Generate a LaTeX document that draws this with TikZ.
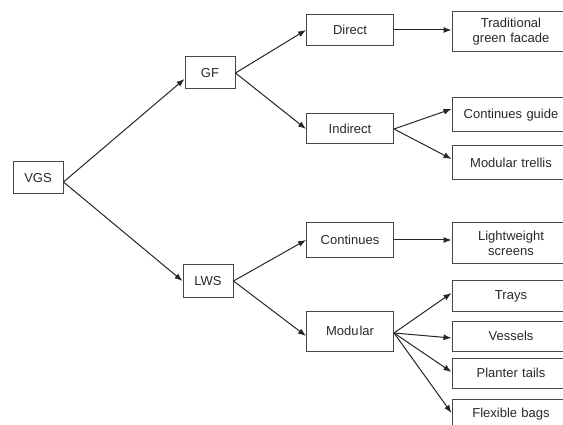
\documentclass[tikz,border=0pt]{standalone}
\usepackage{fontspec}
\setmainfont{Liberation Sans}
\usepackage{tikz}
\usetikzlibrary{arrows.meta,positioning,calc}
\definecolor{boxline}{RGB}{70,70,70}
\definecolor{inktext}{RGB}{40,40,40}

\begin{document}
\begin{tikzpicture}[
  x=1pt, y=-1pt,
  box/.style={rectangle, draw=boxline, line width=1pt, text centered,
              font=\fontsize{13}{15}\selectfont, text=inktext, inner sep=2pt},
  leaf/.style={box, minimum width=118pt, text width=112pt},
  arrow/.style={-{Latex[length=8pt,width=6pt]}, line width=1pt, black!85}
]
  \useasboundingbox (0,0) rectangle (563,425);

  % ── ROOT AND FIRST LEVEL ──
  \node[box, minimum width=50pt, minimum height=32pt] (vgs) at (38,178) {VGS};
  \node[box, minimum width=50pt, minimum height=32pt] (gf)  at (210,73) {GF};
  \node[box, minimum width=50pt, minimum height=33pt] (lws) at (208,281) {LWS};

  % ── SECOND LEVEL ──
  \node[box, minimum width=87pt, minimum height=31pt] (direct)   at (350,30)  {Direct};
  \node[box, minimum width=87pt, minimum height=30pt] (indirect) at (350,129) {Indirect};
  \node[box, minimum width=87pt, minimum height=35pt] (cont)     at (350,240) {Continues};
  \node[box, minimum width=87pt, minimum height=40pt] (modular)  at (350,331) {Modu\kern1pt lar};

  % ── LEAVES ──
  \node[leaf, minimum height=40pt] (tgf)      at (511,32)  {Traditional\\green facade};
  \node[leaf, minimum height=34pt] (cguide)   at (511,115) {Continues guide};
  \node[leaf, minimum height=34pt] (mtrellis) at (511,163) {Modular trellis};
  \node[leaf, minimum height=41pt] (lscreens) at (511,243) {Lightweight\\screens};
  \node[leaf, minimum height=30pt] (trays)    at (511,296) {Trays};
  \node[leaf, minimum height=30pt] (vessels)  at (511,336) {Vessels};
  \node[leaf, minimum height=30pt] (ptails)   at (511,373) {Planter tails};
  \node[leaf, minimum height=30pt] (fbags)    at (511,414) {Flexible bags};

  % Connectors
  \draw[arrow] ([yshift=-4pt]vgs.east) -- ([yshift=-6pt]gf.west);
  \draw[arrow] ([yshift=-4pt]vgs.east) -- (lws.west);

  \draw[arrow] (gf.east) -- (direct.west);
  \draw[arrow] (gf.east) -- (indirect.west);
  \draw[arrow] (lws.east) -- (cont.west);
  \draw[arrow] (lws.east) -- ([yshift=-5pt]modular.west);

  \draw[arrow] (direct.east) -- (direct.east -| tgf.west);
  \draw[arrow] (indirect.east) -- ([yshift=6pt]cguide.west);
  \draw[arrow] (indirect.east) -- ([yshift=4pt]mtrellis.west);
  \draw[arrow] (cont.east) -- (cont.east -| lscreens.west);
  \foreach \leafname/\dy in {trays/3, vessels/-2, ptails/1, fbags/1}
    \draw[arrow] ([yshift=-2pt]modular.east) -- ([yshift=\dy pt]\leafname.west);
\end{tikzpicture}
\end{document}
